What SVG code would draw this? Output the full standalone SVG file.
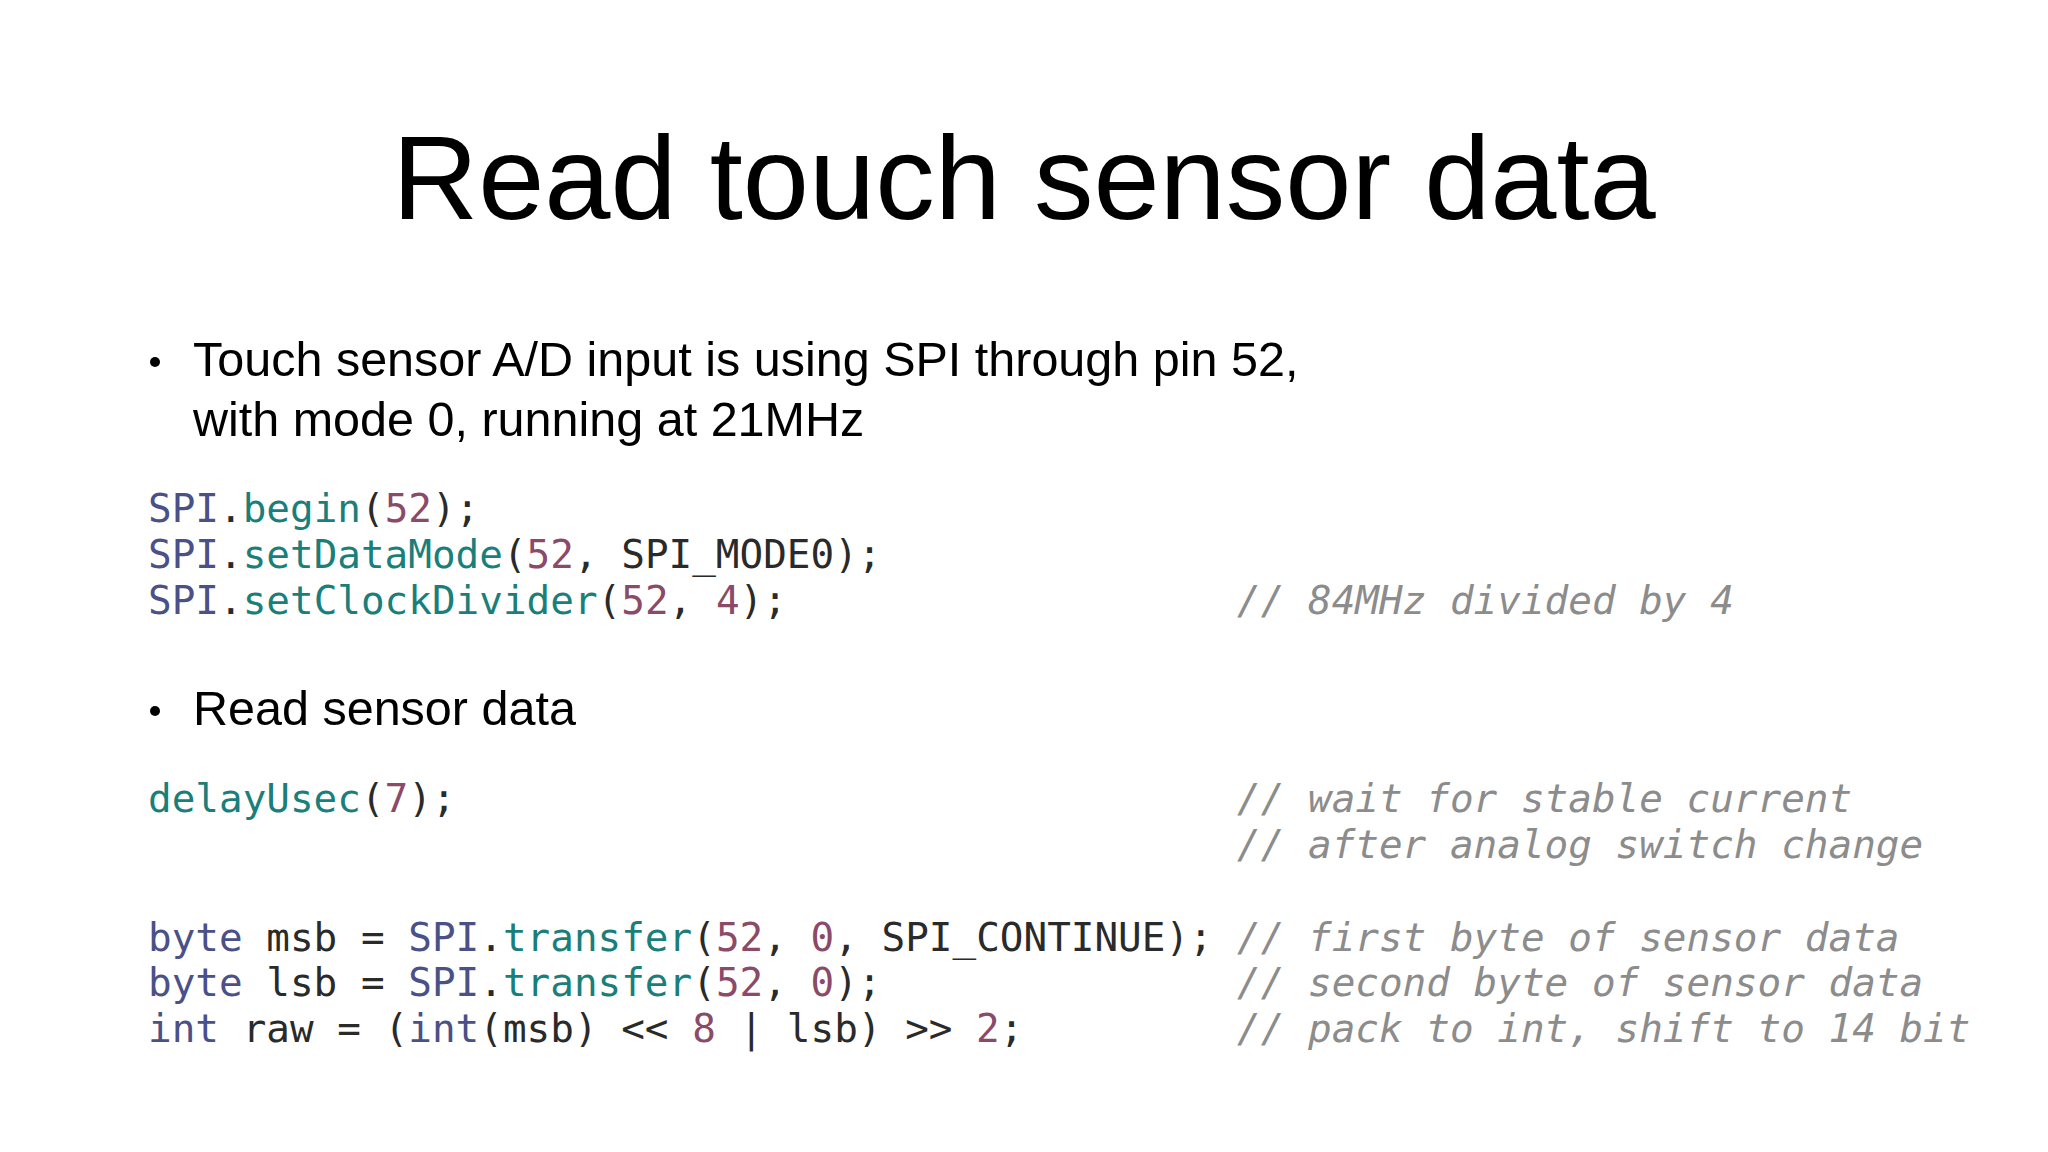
<svg xmlns="http://www.w3.org/2000/svg" width="2048" height="1152" viewBox="0 0 2048 1152">
<style>
.t{font-family:"Liberation Sans",Arial,sans-serif;fill:#000}
.c{font-family:"DejaVu Sans Mono",monospace;font-size:39.3px;fill:#2a2a2a}
.k{fill:#4a5088}.f{fill:#1a7f7a}.n{fill:#8a4a68}
.m{font-family:"DejaVu Sans Mono",monospace;font-size:39.3px;fill:#8c8c8c;font-style:italic}
</style>
<rect width="2048" height="1152" fill="#fff"/>
<text class="t" x="1024" y="219" font-size="119" text-anchor="middle">Read touch sensor data</text>
<g id="bullet1">
<circle cx="155" cy="362" r="5" fill="#000"/>
<text class="t" x="193" y="376" font-size="48.5">Touch sensor A/D input is using SPI through pin 52,</text>
<text class="t" x="193" y="436" font-size="48.5">with mode 0, running at 21MHz</text>
</g>
<g id="code1">
<text class="c" x="148" y="522" xml:space="preserve"><tspan class="k">SPI</tspan>.<tspan class="f">begin</tspan>(<tspan class="n">52</tspan>);</text>
<text class="c" x="148" y="568" xml:space="preserve"><tspan class="k">SPI</tspan>.<tspan class="f">setDataMode</tspan>(<tspan class="n">52</tspan>, SPI_MODE0);</text>
<text class="c" x="148" y="614" xml:space="preserve"><tspan class="k">SPI</tspan>.<tspan class="f">setClockDivider</tspan>(<tspan class="n">52</tspan>, <tspan class="n">4</tspan>);</text>
<text class="m" x="1237" y="614">// 84MHz divided by 4</text>
</g>
<g id="bullet2">
<circle cx="155" cy="711" r="5" fill="#000"/>
<text class="t" x="193" y="725" font-size="48.5">Read sensor data</text>
</g>
<g id="code2">
<text class="c" x="148" y="812" xml:space="preserve"><tspan class="f">delayUsec</tspan>(<tspan class="n">7</tspan>);</text>
<text class="m" x="1237" y="812">// wait for stable current</text>
<text class="m" x="1237" y="858">// after analog switch change</text>
<text class="c" x="148" y="951" xml:space="preserve"><tspan class="k">byte</tspan> msb = <tspan class="k">SPI</tspan>.<tspan class="f">transfer</tspan>(<tspan class="n">52</tspan>, <tspan class="n">0</tspan>, SPI_CONTINUE);</text>
<text class="c" x="148" y="996" xml:space="preserve"><tspan class="k">byte</tspan> lsb = <tspan class="k">SPI</tspan>.<tspan class="f">transfer</tspan>(<tspan class="n">52</tspan>, <tspan class="n">0</tspan>);</text>
<text class="c" x="148" y="1042" xml:space="preserve"><tspan class="k">int</tspan> raw = (<tspan class="k">int</tspan>(msb) &lt;&lt; <tspan class="n">8</tspan> | lsb) &gt;&gt; <tspan class="n">2</tspan>;</text>
<text class="m" x="1237" y="951">// first byte of sensor data</text>
<text class="m" x="1237" y="996">// second byte of sensor data</text>
<text class="m" x="1237" y="1042">// pack to int, shift to 14 bit</text>
</g>
</svg>
